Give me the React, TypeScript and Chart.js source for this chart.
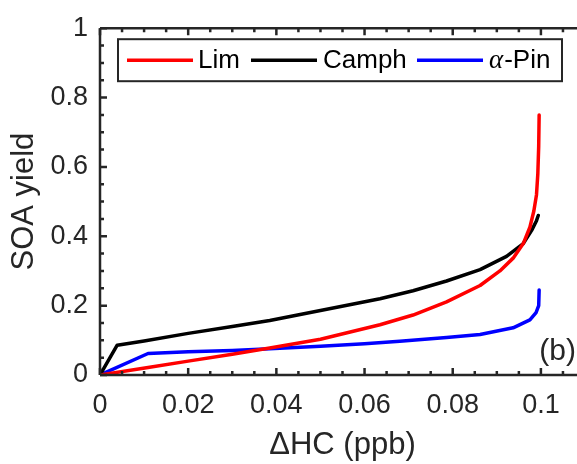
import React, { useEffect, useRef } from 'react';
import { Chart, registerables } from 'chart.js';

Chart.register(...registerables);

// ---- data ----
const limX = [0, 0.0109, 0.02, 0.03, 0.0385, 0.05, 0.0635, 0.071, 0.0786, 0.0862, 0.0907, 0.0937, 0.096, 0.0975, 0.0984, 0.099, 0.0993, 0.0995, 0.0996];
const limY = [0, 0.0216, 0.04, 0.06, 0.078, 0.103, 0.145, 0.173, 0.211, 0.258, 0.3, 0.337, 0.379, 0.426, 0.473, 0.52, 0.58, 0.66, 0.75];

const camphX = [0, 0.0039, 0.01, 0.02, 0.03, 0.0385, 0.05, 0.0635, 0.071, 0.0786, 0.0862, 0.0922, 0.096, 0.0979, 0.099, 0.0994];
const camphY = [0, 0.086, 0.098, 0.12, 0.14, 0.157, 0.186, 0.22, 0.243, 0.271, 0.304, 0.342, 0.379, 0.417, 0.445, 0.46];

const pinX = [0, 0.0109, 0.02, 0.03, 0.0385, 0.05, 0.06, 0.068, 0.0786, 0.0862, 0.0937, 0.0975, 0.0989, 0.0995, 0.0996];
const pinY = [0, 0.062, 0.067, 0.071, 0.076, 0.083, 0.09, 0.097, 0.108, 0.117, 0.136, 0.159, 0.18, 0.2, 0.245];

const seriesLabels = ['Lim', 'Camph', 'α-Pin'];
const seriesColors = ['#ff0000', '#000000', '#0000ff'];

const xTicks = [0, 0.02, 0.04, 0.06, 0.08, 0.1];
const xTickLabels = ['0', '0.02', '0.04', '0.06', '0.08', '0.1'];
const yTicks = [0, 0.2, 0.4, 0.6, 0.8, 1];
const yTickLabels = ['0', '0.2', '0.4', '0.6', '0.8', '1'];
const xMinorStep = 0.005;
const yMinorStep = 0.05;

const AX = '#262626';
const FONT = '"Liberation Sans", Arial, Helvetica, sans-serif';

const toPts = (xs: number[], ys: number[]) => xs.map((x, i) => ({ x, y: ys[i] }));

const axesPlugin = {
  id: 'matlabAxes',
  afterDatasetsDraw(chart: any) {
    const { ctx, chartArea } = chart;
    const { left, right, top, bottom } = chartArea;
    const xs = chart.scales.x;
    const ys = chart.scales.y;
    ctx.save();
    ctx.strokeStyle = AX;
    ctx.lineWidth = 2.5;
    ctx.lineCap = 'butt';
    ctx.beginPath();
    ctx.moveTo(left, bottom);
    ctx.lineTo(right, bottom);
    ctx.moveTo(left, top);
    ctx.lineTo(right, top);
    ctx.moveTo(left, top);
    ctx.lineTo(left, bottom);
    ctx.moveTo(right, top);
    ctx.lineTo(right, bottom);
    ctx.stroke();

    ctx.beginPath();
    const nx = Math.round((xs.max - xs.min) / xMinorStep);
    for (let i = 0; i <= nx; i++) {
      const v = xs.min + i * xMinorStep;
      const major = xTicks.some((t) => Math.abs(t - v) < 1e-9);
      const len = major ? 7 : 4;
      const px = xs.getPixelForValue(v);
      ctx.moveTo(px, bottom);
      ctx.lineTo(px, bottom - len);
      ctx.moveTo(px, top);
      ctx.lineTo(px, top + len);
    }
    const ny = Math.round((ys.max - ys.min) / yMinorStep);
    for (let i = 0; i <= ny; i++) {
      const v = ys.min + i * yMinorStep;
      const major = yTicks.some((t) => Math.abs(t - v) < 1e-9);
      const len = major ? 7 : 4;
      const py = ys.getPixelForValue(v);
      ctx.moveTo(left, py);
      ctx.lineTo(left + len, py);
      ctx.moveTo(right, py);
      ctx.lineTo(right - len, py);
    }
    ctx.stroke();

    // panel label
    ctx.fillStyle = AX;
    ctx.font = `30px ${FONT}`;
    ctx.textAlign = 'right';
    ctx.textBaseline = 'middle';
    ctx.fillText('(b)', right - 9, bottom - 23);

    // legend
    const bx = left + 18, by = top + 11, bw = 444, bh = 42;
    ctx.fillStyle = '#ffffff';
    ctx.fillRect(bx, by, bw, bh);
    ctx.lineWidth = 2;
    ctx.strokeStyle = AX;
    ctx.strokeRect(bx, by, bw, bh);
    const cy = by + bh / 2;
    const lineStarts = [9, 133, 299];
    const textStarts = [80, 205, 371];
    chart.data.datasets.forEach((ds: any, i: number) => {
      ctx.strokeStyle = ds.borderColor;
      ctx.lineWidth = 3.5;
      ctx.beginPath();
      ctx.moveTo(bx + lineStarts[i], cy);
      ctx.lineTo(bx + lineStarts[i] + 66, cy);
      ctx.stroke();
      ctx.fillStyle = '#000000';
      ctx.textAlign = 'left';
      ctx.textBaseline = 'middle';
      const label: string = ds.label;
      let tx = bx + textStarts[i];
      if (label.startsWith('α')) {
        ctx.font = `italic 27px "Liberation Serif", "DejaVu Serif", serif`;
        ctx.fillText('α', tx, cy + 1);
        tx += ctx.measureText('α').width + 1;
        ctx.font = `26px ${FONT}`;
        ctx.fillText(label.slice(1), tx, cy + 1);
      } else {
        ctx.font = `26px ${FONT}`;
        ctx.fillText(label, tx, cy + 1);
      }
    });
    ctx.restore();
  },
};

export default function App() {
  const ref = useRef<HTMLCanvasElement | null>(null);
  useEffect(() => {
    if (!ref.current) return;
    const chart = new Chart(ref.current, {
      type: 'line',
      data: {
        datasets: [
          { label: seriesLabels[0], data: toPts(limX, limY), borderColor: seriesColors[0] },
          { label: seriesLabels[1], data: toPts(camphX, camphY), borderColor: seriesColors[1] },
          { label: seriesLabels[2], data: toPts(pinX, pinY), borderColor: seriesColors[2] },
        ].map((d) => ({
          ...d,
          borderWidth: 3.5,
          pointRadius: 0,
          tension: 0,
          borderCapStyle: 'round' as const,
          borderJoinStyle: 'round' as const,
          fill: false,
        })),
      },
      options: {
        animation: false,
        responsive: false,
        devicePixelRatio: 1,
        layout: { padding: { top: 19, right: 1, left: 0, bottom: 0 } },
        plugins: { legend: { display: false }, tooltip: { enabled: false } },
        scales: {
          x: {
            type: 'linear',
            min: 0,
            max: 0.11,
            afterBuildTicks: (s: any) => {
              s.ticks = xTicks.map((v) => ({ value: v }));
            },
            afterFit: (s: any) => {
              s.height = 89;
            },
            grid: { display: false, drawTicks: false },
            border: { display: false },
            ticks: {
              autoSkip: false,
              maxRotation: 0,
              padding: 14,
              color: AX,
              font: { size: 27, family: FONT },
              callback: (v: any) => xTickLabels[xTicks.findIndex((t) => Math.abs(t - v) < 1e-9)] ?? '',
            },
            title: {
              display: true,
              text: 'ΔHC (ppb)',
              color: AX,
              font: { size: 31, family: FONT },
              padding: { top: 0, bottom: 0 },
            },
          },
          y: {
            type: 'linear',
            min: 0,
            max: 1,
            afterBuildTicks: (s: any) => {
              s.ticks = yTicks.map((v) => ({ value: v }));
            },
            afterFit: (s: any) => {
              s.width = 100;
            },
            grid: { display: false, drawTicks: false },
            border: { display: false },
            ticks: {
              autoSkip: false,
              padding: 12,
              color: AX,
              font: { size: 27, family: FONT },
              callback: (v: any) => yTickLabels[yTicks.findIndex((t) => Math.abs(t - v) < 1e-9)] ?? '',
            },
            title: {
              display: true,
              text: 'SOA yield',
              color: AX,
              font: { size: 31, family: FONT },
              padding: { top: 6, bottom: 0 },
            },
          },
        },
      },
      plugins: [axesPlugin],
    });
    return () => chart.destroy();
  }, []);

  return (
    <div
      style={{
        position: 'fixed',
        left: 0,
        top: 0,
        width: 577,
        height: 464,
        overflow: 'hidden',
        background: '#ffffff',
      }}
    >
      <canvas ref={ref} width={586} height={464} style={{ display: 'block', width: 586, height: 464 }} />
    </div>
  );
}
